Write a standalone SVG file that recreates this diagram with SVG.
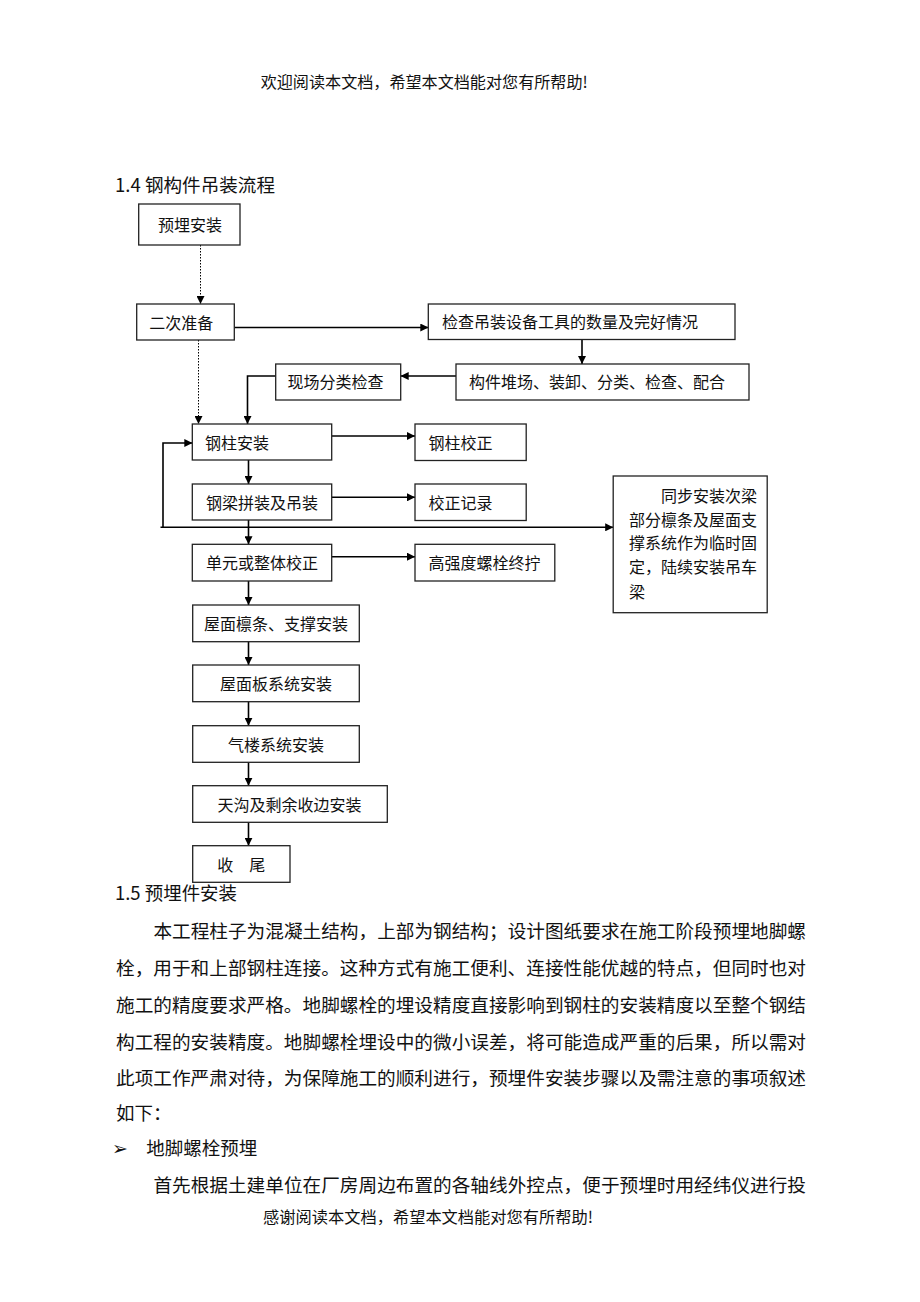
<svg xmlns="http://www.w3.org/2000/svg" width="920" height="1302" viewBox="0 0 920 1302">
<defs>
<marker id="ah" viewBox="0 0 10 10" refX="10" refY="5" markerWidth="8" markerHeight="8" markerUnits="userSpaceOnUse" orient="auto">
<path d="M0,0 L10,5 L0,10 Z" fill="#000"/>
</marker>
</defs>
<style>
.t{font-family:"Noto Sans CJK SC","Noto Sans CJK JP",sans-serif;fill:#111;}
.b{font-size:16px;}
.p{font-size:18.5px;}
.box{fill:#fff;stroke:#222;stroke-width:1.3;}
.ln{fill:none;stroke:#000;stroke-width:1.6;}
.dl{fill:none;stroke:#000;stroke-width:1;stroke-dasharray:1.5,1.5;}
</style>
<rect width="920" height="1302" fill="#fff"/>
<text class="t b" x="260.7" y="87.7" textLength="327" lengthAdjust="spacingAndGlyphs">欢迎阅读本文档，希望本文档能对您有所帮助!</text>
<text class="t p" x="115" y="191.5" textLength="160" lengthAdjust="spacingAndGlyphs">1.4 钢构件吊装流程</text>

<g id="connectors">
<line class="dl" x1="200.5" y1="245" x2="200.5" y2="304" marker-end="url(#ah)"/>
<line class="dl" x1="198.5" y1="340" x2="198.5" y2="424" marker-end="url(#ah)"/>
<line class="ln" x1="234.3" y1="327.5" x2="428.3" y2="327.5" marker-end="url(#ah)"/>
<line class="ln" x1="582" y1="339.5" x2="582" y2="364" marker-end="url(#ah)"/>
<line class="ln" x1="456" y1="376" x2="400.7" y2="376" marker-end="url(#ah)"/>
<polyline class="ln" points="275.7,376 247.5,376 247.5,424" marker-end="url(#ah)"/>
<line class="ln" x1="331.7" y1="436" x2="415" y2="436" marker-end="url(#ah)"/>
<line class="ln" x1="331.7" y1="497.3" x2="415" y2="497.3" marker-end="url(#ah)"/>
<line class="ln" x1="331.7" y1="556.7" x2="415" y2="556.7" marker-end="url(#ah)"/>
<line class="ln" x1="248.5" y1="460" x2="248.5" y2="484" marker-end="url(#ah)"/>
<line class="ln" x1="248.5" y1="520" x2="248.5" y2="544.3" marker-end="url(#ah)"/>
<line class="ln" x1="248.5" y1="581" x2="248.5" y2="605" marker-end="url(#ah)"/>
<line class="ln" x1="248.5" y1="641.7" x2="248.5" y2="665" marker-end="url(#ah)"/>
<line class="ln" x1="248.5" y1="701.7" x2="248.5" y2="725.7" marker-end="url(#ah)"/>
<line class="ln" x1="248.5" y1="762.3" x2="248.5" y2="785.7" marker-end="url(#ah)"/>
<line class="ln" x1="248.5" y1="822.3" x2="248.5" y2="845.7" marker-end="url(#ah)"/>
<line class="ln" x1="160.5" y1="527.3" x2="613.2" y2="527.3" marker-end="url(#ah)"/>
<polyline class="ln" points="163,527.3 163,443 192.3,443" marker-end="url(#ah)"/>
</g>

<g id="n1"><rect class="box" x="138.7" y="204" width="101.3" height="41"/><text class="t b" x="158" y="230.5">预埋安装</text></g>
<g id="n2"><rect class="box" x="136.7" y="304" width="97.6" height="36"/><text class="t b" x="149.3" y="329.3">二次准备</text></g>
<g id="n3"><rect class="box" x="428.3" y="304" width="306.7" height="35.5"/><text class="t b" x="442" y="327.8">检查吊装设备工具的数量及完好情况</text></g>
<g id="n4"><rect class="box" x="456" y="364" width="293" height="36"/><text class="t b" x="469" y="388">构件堆场、装卸、分类、检查、配合</text></g>
<g id="n5"><rect class="box" x="275.7" y="364" width="125" height="36"/><text class="t b" x="287.5" y="388">现场分类检查</text></g>
<g id="n6"><rect class="box" x="192.3" y="424" width="139.4" height="36"/><text class="t b" x="205" y="449">钢柱安装</text></g>
<g id="n7"><rect class="box" x="415" y="424" width="111.2" height="36.5"/><text class="t b" x="428.5" y="449">钢柱校正</text></g>
<g id="n8"><rect class="box" x="192.3" y="484" width="139.4" height="36"/><text class="t b" x="206" y="509">钢梁拼装及吊装</text></g>
<g id="n9"><rect class="box" x="415" y="484" width="111.2" height="36.5"/><text class="t b" x="428.5" y="509">校正记录</text></g>
<g id="n10"><rect class="box" x="192.3" y="544.3" width="139.4" height="36.7"/><text class="t b" x="206" y="569">单元或整体校正</text></g>
<g id="n11"><rect class="box" x="415" y="544.3" width="139.8" height="36.7"/><text class="t b" x="428.5" y="569">高强度螺栓终拧</text></g>
<g id="n12"><rect class="box" x="613.2" y="476" width="154" height="136.7"/>
<text class="t b" x="661" y="502">同步安装次梁</text>
<text class="t b" x="629" y="526">部分檩条及屋面支</text>
<text class="t b" x="629" y="549.3">撑系统作为临时固</text>
<text class="t b" x="629" y="572.7">定，陆续安装吊车</text>
<text class="t b" x="629" y="597.7">梁</text></g>
<g id="n13"><rect class="box" x="192.7" y="605" width="166.6" height="36.7"/><text class="t b" x="276" y="630" text-anchor="middle">屋面檩条、支撑安装</text></g>
<g id="n14"><rect class="box" x="192.7" y="665" width="166.6" height="36.7"/><text class="t b" x="276" y="690" text-anchor="middle">屋面板系统安装</text></g>
<g id="n15"><rect class="box" x="192.7" y="725.7" width="166.6" height="36.6"/><text class="t b" x="276" y="750.5" text-anchor="middle">气楼系统安装</text></g>
<g id="n16"><rect class="box" x="192.7" y="785.7" width="194.6" height="36.6"/><text class="t b" x="289.5" y="810.5" text-anchor="middle">天沟及剩余收边安装</text></g>
<g id="n17"><rect class="box" x="192.7" y="845.7" width="97.3" height="36.6"/><text class="t b" x="241.3" y="870.5" text-anchor="middle">收　尾</text></g>

<text class="t p" x="115" y="900" textLength="122" lengthAdjust="spacingAndGlyphs">1.5 预埋件安装</text>
<text class="t p" x="153.4" y="937.7" textLength="652.6" lengthAdjust="spacingAndGlyphs">本工程柱子为混凝土结构，上部为钢结构；设计图纸要求在施工阶段预埋地脚螺</text>
<text class="t p" x="116" y="974.6" textLength="690" lengthAdjust="spacingAndGlyphs">栓，用于和上部钢柱连接。这种方式有施工便利、连接性能优越的特点，但同时也对</text>
<text class="t p" x="116" y="1011.5" textLength="690" lengthAdjust="spacingAndGlyphs">施工的精度要求严格。地脚螺栓的埋设精度直接影响到钢柱的安装精度以至整个钢结</text>
<text class="t p" x="116" y="1048.7" textLength="690" lengthAdjust="spacingAndGlyphs">构工程的安装精度。地脚螺栓埋设中的微小误差，将可能造成严重的后果，所以需对</text>
<text class="t p" x="116" y="1085.3" textLength="690" lengthAdjust="spacingAndGlyphs">此项工作严肃对待，为保障施工的顺利进行，预埋件安装步骤以及需注意的事项叙述</text>
<text class="t p" x="116" y="1119.7">如下：</text>
<text x="112" y="1155" style="font-family:'DejaVu Sans',sans-serif;font-size:19px;font-weight:bold;fill:#111">➢</text>
<text class="t p" x="146.3" y="1155.3">地脚螺栓预埋</text>
<text class="t p" x="153.4" y="1192" textLength="652.6" lengthAdjust="spacingAndGlyphs">首先根据土建单位在厂房周边布置的各轴线外控点，便于预埋时用经纬仪进行投</text>
<text class="t b" x="263" y="1223.3" textLength="330" lengthAdjust="spacingAndGlyphs">感谢阅读本文档，希望本文档能对您有所帮助!</text>
</svg>
